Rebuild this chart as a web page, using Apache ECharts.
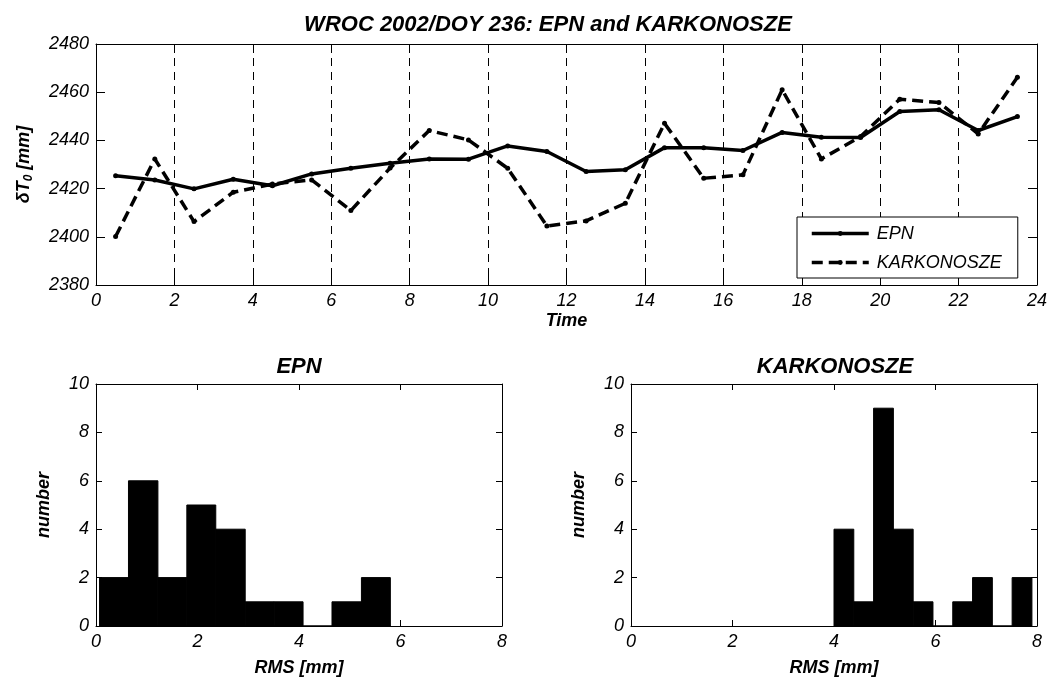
<!DOCTYPE html>
<html>
<head>
<meta charset="utf-8">
<script src="https://cdn.jsdelivr.net/npm/echarts@6/dist/echarts.min.js"></script>
<style>
  html, body { margin: 0; padding: 0; background: #fff; }
  #main { width: 1051px; height: 680px; }
</style>
</head>
<body>
<div id="main"></div>
<script>
// hourly values, WROC 2002 DOY 236
var hours = [0.5, 1.5, 2.5, 3.5, 4.5, 5.5, 6.5, 7.5, 8.5, 9.5, 10.5, 11.5,
  12.5, 13.5, 14.5, 15.5, 16.5, 17.5, 18.5, 19.5, 20.5, 21.5, 22.5, 23.5];
var epn = [2425.3, 2423.6, 2419.9, 2423.9, 2421.2, 2426.1, 2428.4, 2430.5, 2432.3, 2432.2, 2437.7, 2435.4,
  2427.1, 2427.8, 2437.0, 2437.0, 2435.8, 2443.3, 2441.3, 2441.2, 2452.0, 2452.7, 2444.1, 2449.9];
var karkonosze = [2400.1, 2432.3, 2406.3, 2418.5, 2421.9, 2423.6, 2410.9, 2428.5, 2444.1, 2440.2, 2428.4, 2404.5,
  2406.6, 2413.9, 2447.1, 2424.3, 2425.7, 2461.0, 2432.3, 2441.6, 2457.1, 2455.7, 2442.7, 2466.2];

// histograms of RMS
var epnBinEdges = [0.07, 0.64, 1.22, 1.79, 2.36, 2.94, 3.51, 4.08, 4.65, 5.23, 5.80];
var epnCounts = [2, 6, 2, 5, 4, 1, 1, 0, 1, 2];
var karkBinEdges = [4.00, 4.39, 4.78, 5.17, 5.56, 5.95, 6.34, 6.73, 7.12, 7.51, 7.90];
var karkCounts = [4, 1, 9, 4, 1, 0, 1, 2, 0, 2];

var timeTicks = [0, 24, 2];
var dtTicks = [2380, 2480, 20];
var rmsTicks = [0, 8, 2];
var numTicks = [0, 10, 2];

var FONT = "'Liberation Sans', Arial, sans-serif";
var chart = echarts.init(document.getElementById('main'));

function pairs(xs, ys) {
  var out = [];
  for (var i = 0; i < xs.length; i++) out.push([xs[i], ys[i]]);
  return out;
}
function bins(edges, counts) {
  var out = [];
  for (var i = 0; i < counts.length; i++) out.push([edges[i], edges[i + 1], counts[i]]);
  return out;
}
function renderBin(params, api) {
  var p0 = api.coord([api.value(0), api.value(2)]);
  var p1 = api.coord([api.value(1), 0]);
  return {
    type: 'rect',
    shape: { x: p0[0], y: p0[1], width: p1[0] - p0[0], height: p1[1] - p0[1] },
    style: { fill: '#000', stroke: '#000', lineWidth: 1 }
  };
}

var labelStyle = { color: '#000', fontFamily: FONT, fontStyle: 'italic', fontSize: 18,
  formatter: function (v) { return String(v); } };
var nameStyle = { color: '#000', fontFamily: FONT, fontStyle: 'italic', fontWeight: 'bold', fontSize: 18 };

function mainAxis(t, grid, pos, tickLen, extra) {
  var a = {
    type: 'value', gridIndex: grid, position: pos,
    min: t[0], max: t[1], interval: t[2],
    axisLine: { show: true, onZero: false, lineStyle: { color: '#000', width: 1 } },
    axisTick: { show: true, inside: true, length: tickLen, lineStyle: { color: '#000' } },
    axisLabel: Object.assign({ margin: 7 }, labelStyle),
    splitLine: { show: false }
  };
  return Object.assign(a, extra || {});
}
function mirrorAxis(t, grid, pos, tickLen) {
  return {
    type: 'value', gridIndex: grid, position: pos,
    min: t[0], max: t[1], interval: t[2],
    axisLine: { show: true, onZero: false, lineStyle: { color: '#000', width: 1 } },
    axisTick: { show: true, inside: true, length: tickLen, lineStyle: { color: '#000' } },
    axisLabel: { show: false },
    splitLine: { show: false }
  };
}

var option = {
  backgroundColor: '#fff',
  animation: false,
  title: [
    { text: 'WROC 2002/DOY 236: EPN and KARKONOSZE', left: 543, top: 9, textAlign: 'center',
      textStyle: { color: '#000', fontFamily: FONT, fontStyle: 'italic', fontWeight: 'bold', fontSize: 22 } },
    { text: 'EPN', left: 294, top: 351, textAlign: 'center',
      textStyle: { color: '#000', fontFamily: FONT, fontStyle: 'italic', fontWeight: 'bold', fontSize: 22 } },
    { text: 'KARKONOSZE', left: 830, top: 351, textAlign: 'center',
      textStyle: { color: '#000', fontFamily: FONT, fontStyle: 'italic', fontWeight: 'bold', fontSize: 22 } }
  ],
  legend: {
    data: ['EPN', 'KARKONOSZE'],
    orient: 'vertical',
    left: 797, top: 217,
    padding: [7, 16, 6, 13],
    itemGap: 10,
    itemWidth: 57, itemHeight: 6,
    borderColor: '#000', borderWidth: 1,
    backgroundColor: '#fff',
    lineStyle: { width: 3.5 },
    textStyle: { color: '#000', fontFamily: FONT, fontStyle: 'italic', fontSize: 18, lineHeight: 19, padding: [0, 0, 0, 3] }
  },
  grid: [
    { left: 96, top: 44, width: 941, height: 241 },
    { left: 96, top: 384, width: 406, height: 242 },
    { left: 631, top: 384, width: 406, height: 242 }
  ],
  xAxis: [
    mainAxis(timeTicks, 0, 'bottom', 9, {
      name: 'Time', nameLocation: 'middle', nameGap: 27, nameTextStyle: nameStyle,
      splitLine: { show: true, lineStyle: { color: '#000', width: 1, type: [8, 6] } }
    }),
    mirrorAxis(timeTicks, 0, 'top', 9),
    mainAxis(rmsTicks, 1, 'bottom', 6, {
      name: 'RMS [mm]', nameLocation: 'middle', nameGap: 33, nameTextStyle: nameStyle
    }),
    mirrorAxis(rmsTicks, 1, 'top', 6),
    mainAxis(rmsTicks, 2, 'bottom', 6, {
      name: 'RMS [mm]', nameLocation: 'middle', nameGap: 33, nameTextStyle: nameStyle
    }),
    mirrorAxis(rmsTicks, 2, 'top', 6)
  ],
  yAxis: [
    mainAxis(dtTicks, 0, 'left', 9, {
      name: '{a|δT}{s|0}{a| [mm]}', nameLocation: 'middle', nameGap: 60, nameRotate: 90,
      nameTextStyle: {
        color: '#000',
        rich: {
          a: { fontFamily: FONT, fontStyle: 'italic', fontWeight: 'bold', fontSize: 18, color: '#000', lineHeight: 24 },
          s: { fontFamily: FONT, fontStyle: 'italic', fontWeight: 'bold', fontSize: 12, color: '#000', lineHeight: 24, padding: [10, 0, 0, 0] }
        }
      }
    }),
    mirrorAxis(dtTicks, 0, 'right', 9),
    mainAxis(numTicks, 1, 'left', 6, {
      name: 'number', nameLocation: 'middle', nameGap: 43, nameRotate: 90, nameTextStyle: nameStyle
    }),
    mirrorAxis(numTicks, 1, 'right', 6),
    mainAxis(numTicks, 2, 'left', 6, {
      name: 'number', nameLocation: 'middle', nameGap: 43, nameRotate: 90, nameTextStyle: nameStyle
    }),
    mirrorAxis(numTicks, 2, 'right', 6)
  ],
  series: [
    {
      name: 'EPN', type: 'line', xAxisIndex: 0, yAxisIndex: 0,
      data: pairs(hours, epn),
      symbol: 'circle', symbolSize: 5, showSymbol: true,
      lineStyle: { color: '#000', width: 3.5 },
      itemStyle: { color: '#000' },
      z: 3
    },
    {
      name: 'KARKONOSZE', type: 'line', xAxisIndex: 0, yAxisIndex: 0,
      data: pairs(hours, karkonosze),
      symbol: 'circle', symbolSize: 5, showSymbol: true,
      lineStyle: { color: '#000', width: 3.5, type: [11, 6] },
      itemStyle: { color: '#000' },
      z: 3
    },
    {
      name: 'EPN hist', type: 'custom', xAxisIndex: 2, yAxisIndex: 2,
      renderItem: renderBin, data: bins(epnBinEdges, epnCounts),
      encode: { x: [0, 1], y: 2 }
    },
    {
      name: 'KARKONOSZE hist', type: 'custom', xAxisIndex: 4, yAxisIndex: 4,
      renderItem: renderBin, data: bins(karkBinEdges, karkCounts),
      encode: { x: [0, 1], y: 2 }
    }
  ]
};

chart.setOption(option);
</script>
</body>
</html>
